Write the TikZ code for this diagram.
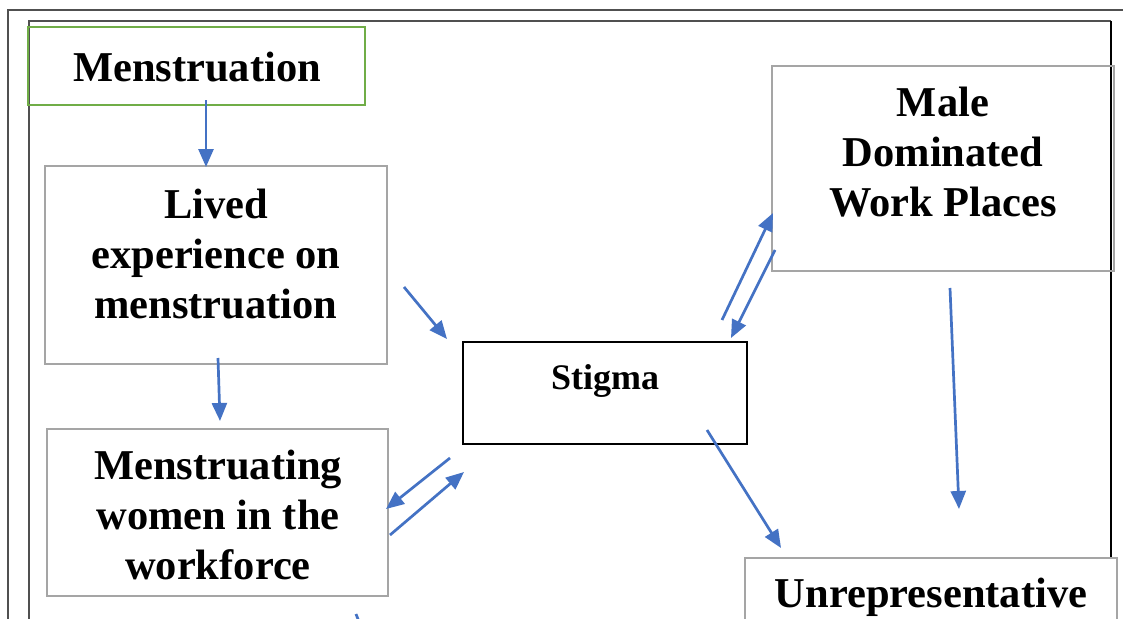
\documentclass[tikz,border=0pt]{standalone}
\usepackage{fontspec}
\setmainfont{Liberation Serif}
\usetikzlibrary{arrows.meta}
\definecolor{arrblue}{HTML}{4472C4}
\definecolor{boxgray}{HTML}{A5A5A5}
\definecolor{boxgreen}{HTML}{70AD47}
\definecolor{framegray}{HTML}{505050}
\tikzset{
  frameline/.style={draw=framegray, line width=2pt},
  graybox/.style={draw=boxgray, line width=2.8pt, rectangle, inner sep=0pt},
  greenbox/.style={draw=boxgreen, line width=2.8pt, rectangle, inner sep=0pt},
  blackbox/.style={draw=black, line width=1.3pt, rectangle, inner sep=0pt},
  bigtext/.style={font=\fontsize{42.5}{50}\selectfont\bfseries, align=center, inner sep=0pt},
  midtext/.style={font=\fontsize{36}{42}\selectfont\bfseries, align=center, inner sep=0pt},
  flow/.style={draw=arrblue, line width=2.7pt, -{Triangle[length=18pt,width=15pt]}},
}
\begin{document}
\begin{tikzpicture}[x=1pt,y=-1pt]
\clip (0,0) rectangle (1123,618);
\fill[white] (0,0) rectangle (1123,618);
% frames
\draw[frameline] (8,640) -- (8,10) -- (1140,10);
\draw[frameline] (29,640) -- (29,21) -- (1111,21);
\draw[draw=black, line width=1.6pt] (1111,21) -- (1111,558);
% boxes
\node[greenbox, minimum width=337pt, minimum height=78pt] (menbox) at (196.5,66) {};
\node[graybox, minimum width=342pt, minimum height=198pt] (livbox) at (216,265) {};
\node[graybox, minimum width=341pt, minimum height=167pt] (womenbox) at (217.5,512.5) {};
\node[blackbox, minimum width=284pt, minimum height=102pt] (stigbox) at (605,393) {};
\node[graybox, minimum width=342pt, minimum height=205pt] (malebox) at (943,168.5) {};
\node[graybox, fill=white, minimum width=372pt, minimum height=140pt] (unrepbox) at (931,628) {};
% texts
\node[bigtext] (mentxt) at (197,67) {Menstruation};
\node[bigtext] (livtxt) at (216,254) {Lived\\experience on\\menstruation};
\node[bigtext] (womentxt) at (218,515) {Menstruating\\women in the\\workforce};
\node[midtext] (stigtxt) at (605,381) {Stigma};
\node[bigtext] (maletxt) at (943,152) {Male\\Dominated\\Work Places};
\node[bigtext] (unreptxt) at (931,597) {Unrepresentative};
% arrow end points
\coordinate (a1s) at (206,100); \coordinate (a1e) at (206,167);
\coordinate (a2s) at (404,287); \coordinate (a2e) at (447,339);
\coordinate (a3s) at (218,358); \coordinate (a3e) at (220,421);
\coordinate (a4s) at (450,458); \coordinate (a4e) at (386,509);
\coordinate (a5s) at (390,535); \coordinate (a5e) at (464,472);
\coordinate (a6s) at (722,320); \coordinate (a6e) at (773,213);
\coordinate (a7s) at (775,250); \coordinate (a7e) at (731,338);
\coordinate (a8s) at (707,430); \coordinate (a8e) at (781,548);
\coordinate (a9s) at (950,288); \coordinate (a9e) at (959,509);
\coordinate (a10s) at (356,614); \coordinate (a10e) at (366,640);
\draw[flow] (a1s) -- (a1e);
\draw[flow] (a2s) -- (a2e);
\draw[flow] (a3s) -- (a3e);
\draw[flow] (a4s) -- (a4e);
\draw[flow] (a5s) -- (a5e);
\draw[flow] (a6s) -- (a6e);
\draw[flow] (a7s) -- (a7e);
\draw[flow] (a8s) -- (a8e);
\draw[flow] (a9s) -- (a9e);
\draw[draw=arrblue, line width=2.7pt] (a10s) -- (a10e);
\end{tikzpicture}
\end{document}
